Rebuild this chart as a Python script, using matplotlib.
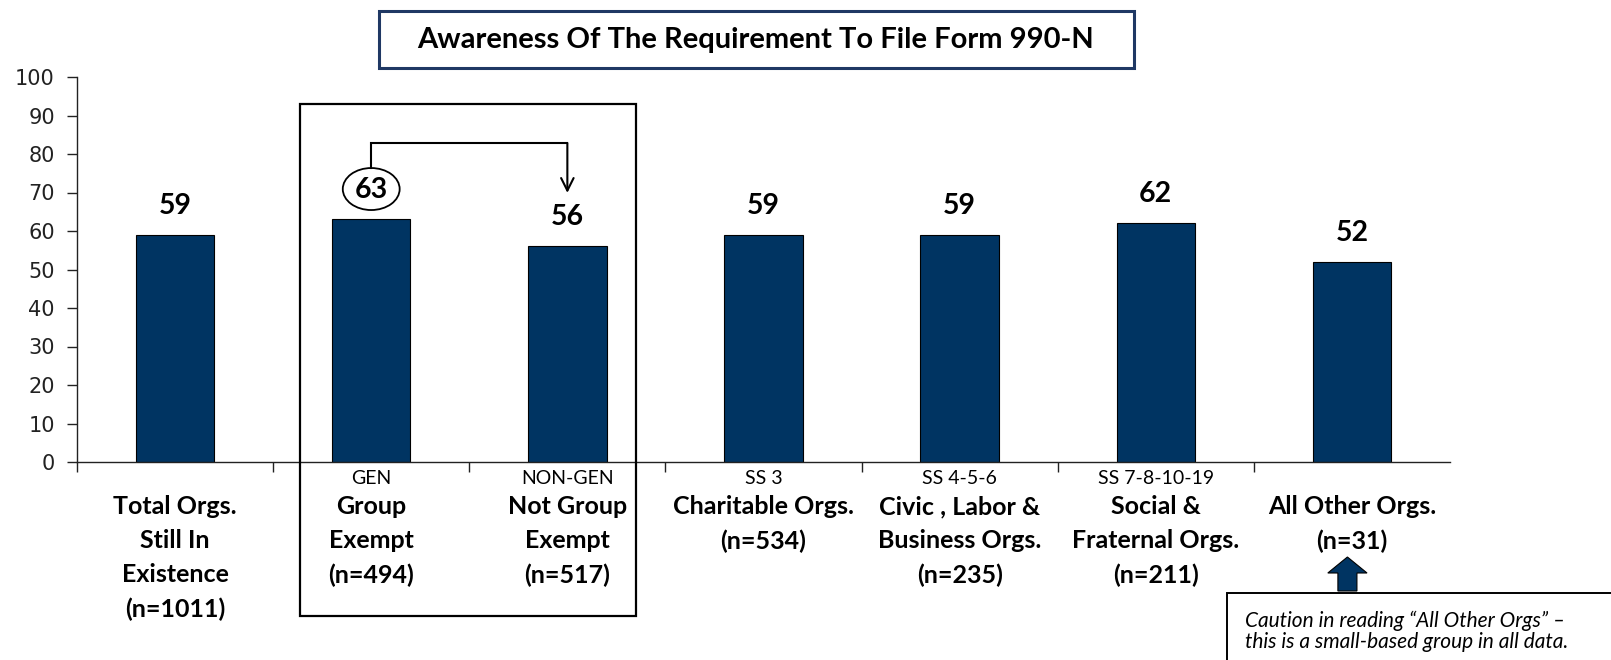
import matplotlib
matplotlib.use("Agg")
import matplotlib.pyplot as plt
from matplotlib import patches

# ──────────────────────────────────────────────────────────────────────────────
# Data
# ──────────────────────────────────────────────────────────────────────────────
values = [59, 63, 56, 59, 59, 62, 52]
top_labels = ["", "GEN", "NON-GEN", "SS 3", "SS 4-5-6", "SS 7-8-10-19", ""]
main_labels = [
    ["Total Orgs.", "Still In", "Existence", "(n=1011)"],
    ["Group", "Exempt", "(n=494)"],
    ["Not Group", "Exempt", "(n=517)"],
    ["Charitable Orgs.", "(n=534)"],
    ["Civic , Labor &", "Business Orgs.", "(n=235)"],
    ["Social &", "Fraternal Orgs.", "(n=211)"],
    ["All Other Orgs.", "(n=31)"],
]
yticks = list(range(0, 101, 10))
title = "Awareness Of The Requirement To File Form 990-N"
caution = ["Caution in reading \u201cAll Other Orgs\u201d \u2013",
           "this is a small-based group in all data."]

BAR = "#003462"
W, H = 1611, 660
FONT = ["Lato", "DejaVu Sans"]

fig = plt.figure(figsize=(W / 100, H / 100), dpi=100)
ax = fig.add_axes([77 / W, 1 - 462 / H, (1450 - 77) / W, (462 - 77) / H])

x = list(range(len(values)))
ax.bar(x, values, width=0.4, color=BAR, edgecolor="black", linewidth=0.8, zorder=2)
ax.set_xlim(-0.5, len(values) - 0.5)
ax.set_ylim(0, 100)

ax.spines["top"].set_visible(False)
ax.spines["right"].set_visible(False)
for s in ("left", "bottom"):
    ax.spines[s].set_color("#222222")
    ax.spines[s].set_linewidth(1.0)

ax.set_yticks(yticks)
ax.tick_params(axis="y", length=7, width=1, color="#222222", pad=9,
               labelsize=15, labelcolor="#222222")
ax.set_xticks([i - 0.5 for i in x])
ax.set_xticklabels([])
ax.tick_params(axis="x", length=7, width=1, color="#222222")

# value labels above bars
for i, v in enumerate(values):
    ax.text(i, v + 7.6, str(v), ha="center", va="center", fontsize=20.5,
            fontweight="bold", family=FONT, zorder=4)

# category labels (small regular line + bold lines)
px = 100 / 385  # data units per pixel on y
for i, (top, lines) in enumerate(zip(top_labels, main_labels)):
    if top:
        ax.text(i, -16 * px, top, ha="center", va="center", fontsize=14,
                family=FONT, clip_on=False)
    for j, line in enumerate(lines):
        ax.text(i, -(45 + 34 * j) * px, line, ha="center", va="center",
                fontsize=18, fontweight="bold", family=FONT, clip_on=False)

# box around the GEN / NON-GEN pair
ax.add_patch(patches.Rectangle((0.638, -154 * px), 2.352 - 0.638, (154 + 358) * px,
                               fill=False, edgecolor="black", linewidth=1.6,
                               clip_on=False, zorder=3))

# ellipse around 63 and connector arrow to 56
g, ng = 1, 2
ax.add_patch(patches.Ellipse((g, values[g] + 7.9), 0.29, 42 * px, fill=False,
                             edgecolor="black", linewidth=1.3, zorder=3))
y_top = values[g] + 7.9 + 21 * px
y_bar = y_top + 25 * px
ax.plot([g, g, ng], [y_top, y_bar, y_bar], color="black", lw=1.5,
        solid_joinstyle="miter", zorder=3)
ax.annotate("", xy=(ng, values[ng] + 13.9), xytext=(ng, y_bar),
            arrowprops=dict(arrowstyle="->,head_length=0.9,head_width=0.45",
                            color="black", lw=1.5, shrinkA=0, shrinkB=0))

# up arrow pointing at "All Other Orgs." sample size
last = len(values) - 1
ax.add_patch(patches.FancyArrow(last - 0.023, -129 * px, 0, 34 * px, width=0.097,
                                head_width=0.2, head_length=16 * px,
                                length_includes_head=True, facecolor=BAR,
                                edgecolor="black", linewidth=0.8, clip_on=False))

# caution box (runs off the bottom-right edge)
fig.add_artist(patches.Rectangle((1227 / W, -0.05), 1.1 - 1227 / W, 1 - 593 / H + 0.05,
                                 transform=fig.transFigure, fill=False,
                                 edgecolor="black", linewidth=1.4))
for k, line in enumerate(caution):
    fig.text(1245 / W, 1 - (621 + 21 * k) / H, line, ha="left", va="center",
             fontsize=15, style="italic", family=FONT)

# title box
fig.add_artist(patches.Rectangle((379 / W, 1 - 68 / H), (1134 - 379) / W, 57 / H,
                                 transform=fig.transFigure, fill=False,
                                 edgecolor="#1F3864", linewidth=2.2))
fig.text(756 / W, 1 - 40 / H, title, ha="center", va="center", fontsize=21,
         fontweight="bold", family=FONT)

fig.savefig("out.png", dpi=100)
